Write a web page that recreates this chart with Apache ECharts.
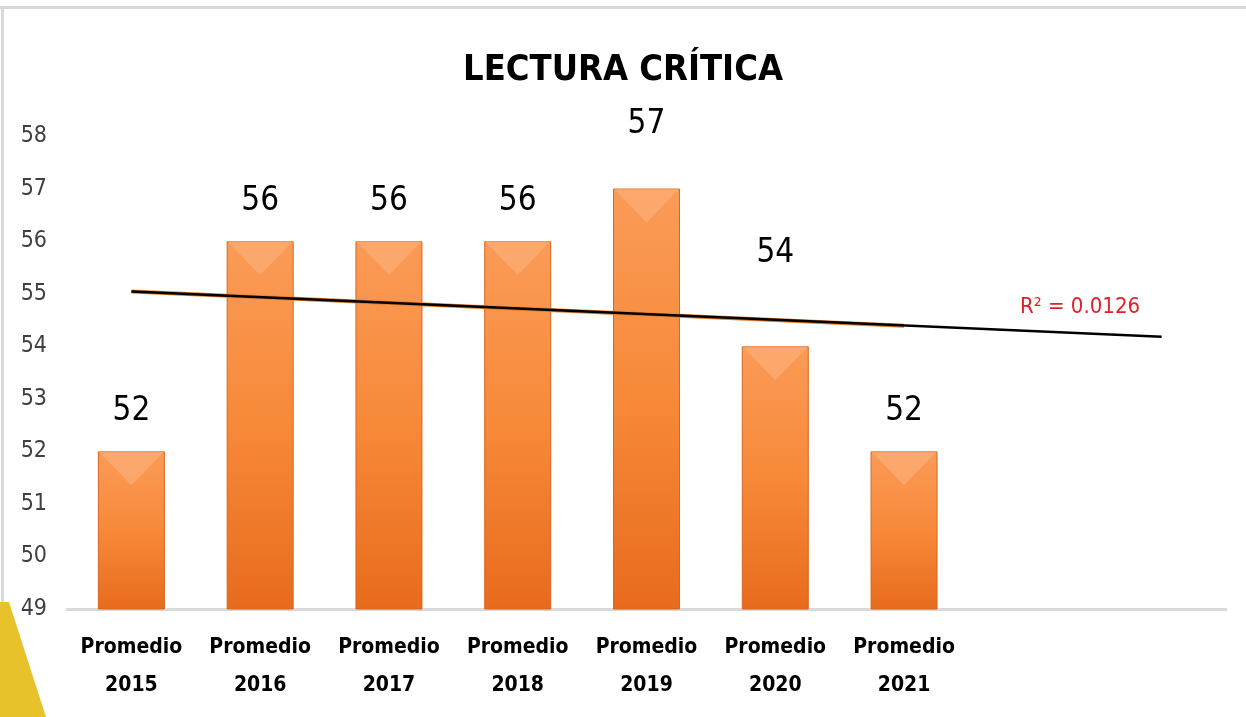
<!DOCTYPE html>
<html>
<head>
<meta charset="utf-8">
<title>Lectura crítica</title>
<script src="https://cdn.jsdelivr.net/npm/echarts@6/dist/echarts.min.js"></script>
<style>
  html, body { margin: 0; padding: 0; background: #ffffff; }
  #chart { width: 1246px; height: 717px; }
</style>
</head>
<body>
<div id="chart"></div>
<script>
// datos
const years = ['2015', '2016', '2017', '2018', '2019', '2020', '2021'];
const promedios = [52, 56, 56, 56, 57, 54, 52];
const extraSlots = ['', ''];          // espacio de pronostico de la linea de tendencia
const yTicks = { min: 49, max: 58, step: 1 };
// linea de tendencia lineal (extremos)
const trendStart = 55.04;
const trendEndBars = 54.39;
const trendEndForecast = 54.18;
const r2Text = 'R² = 0.0126';

const font = "'DejaVu Sans Condensed', 'Liberation Sans Narrow', 'Roboto', sans-serif";
const categories = years.map(y => 'Promedio\n' + y).concat(extraSlots);
const lastBar = years.length - 1;
const lastSlot = categories.length - 1;

// algunas etiquetas estan desplazadas hacia arriba en el original
const labelLift = { 4: 48, 5: 76 };

const chart = echarts.init(document.getElementById('chart'));
chart.setOption({
  backgroundColor: '#ffffff',
  animation: false,
  title: {
    text: 'LECTURA CRÍTICA',
    left: 'center',
    top: 48,
    textStyle: { fontFamily: font, fontSize: 36, fontWeight: 'bold', color: '#000000' }
  },
  grid: { left: 67, right: 20, top: 136, bottom: 108 },
  xAxis: {
    type: 'category',
    data: categories,
    axisLine: { lineStyle: { color: '#d9d9d9', width: 3 } },
    axisTick: { show: false },
    axisLabel: {
      interval: 0,
      margin: 20,
      fontFamily: font,
      fontSize: 21,
      fontWeight: 'bold',
      color: '#000000',
      lineHeight: 38
    }
  },
  yAxis: {
    type: 'value',
    min: yTicks.min,
    max: yTicks.max,
    interval: yTicks.step,
    axisLine: { show: false },
    axisTick: { show: false },
    splitLine: { show: false },
    axisLabel: { margin: 20, fontFamily: font, fontSize: 23, color: '#404040' }
  },
  series: [
    {
      type: 'bar',
      data: promedios.map((v, i) => ({
        value: v,
        label: { distance: labelLift[i] || 23 }
      })),
      barWidth: 67,
      barGap: '-100%',
      itemStyle: {
        color: new echarts.graphic.LinearGradient(0, 0, 0, 1, [
          { offset: 0, color: '#fa9b57' },
          { offset: 0.5, color: '#f78939' },
          { offset: 1, color: '#e86b1d' }
        ]),
        borderColor: '#d8661f',
        borderWidth: 1
      },
      label: {
        show: true,
        position: 'top',
        fontFamily: font,
        fontSize: 33,
        color: '#000000'
      },
      z: 2
    },
    {
      // bisel claro en la parte superior de cada barra
      type: 'pictorialBar',
      data: promedios,
      barWidth: 67,
      barGap: '-100%',
      symbol: 'path://M0,0 L100,0 L50,55 Z',
      symbolPosition: 'end',
      symbolSize: [66, 34],
      symbolOffset: [0, 0],
      itemStyle: { color: '#fdb582', opacity: 0.55 },
      silent: true,
      z: 3
    },
    {
      type: 'line',
      data: [[0, trendStart], [lastBar, trendEndBars]],
      symbol: 'none',
      lineStyle: { color: '#e27a2c', width: 4 },
      silent: true,
      z: 4
    },
    {
      type: 'line',
      data: [[0, trendStart], [lastSlot, trendEndForecast]],
      symbol: 'none',
      lineStyle: { color: '#000000', width: 2.5 },
      silent: true,
      z: 5
    }
  ],
  graphic: [
    { type: 'rect', left: 0, top: 6, shape: { width: 1246, height: 3 }, style: { fill: '#d9d9d9' } },
    { type: 'rect', left: 1, top: 6, shape: { width: 3, height: 600 }, style: { fill: '#d9d9d9' } },
    {
      type: 'polygon',
      shape: { points: [[0, 602], [9, 602], [46, 717], [0, 717]] },
      style: { fill: '#e8c22a' }
    },
    {
      type: 'text',
      left: 1020,
      top: 296,
      style: { text: r2Text, font: '22px ' + font, fill: '#e0202a' }
    }
  ]
});
</script>
</body>
</html>
